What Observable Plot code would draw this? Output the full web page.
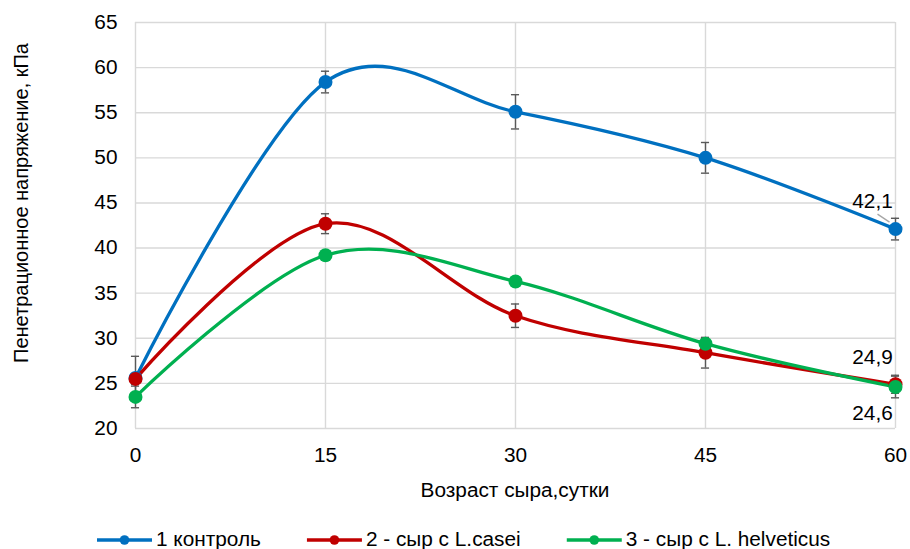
<!DOCTYPE html>
<html>
<head>
<meta charset="utf-8">
<script src="https://cdn.jsdelivr.net/npm/d3@7"></script>
<script src="https://cdn.jsdelivr.net/npm/@observablehq/plot@0.6"></script>
<style>
  body { margin: 0; background: #fff; font-family: "Liberation Sans", Arial, sans-serif; }
  #chart { width: 910px; }
  #chart svg { display: block; }
</style>
</head>
<body>
<div id="chart"></div>
<script>
// Cheese age, days
const days = [0, 15, 30, 45, 60];
const seriesNames = ["1 контроль", "2 - сыр с L.casei", "3 - сыр с L. helveticus"];
const seriesColors = ["#0070C0", "#C00000", "#00B050"];
// Penetration stress, kPa (mean and error)
const control = [25.6, 58.4, 55.1, 50.0, 42.1];
const casei = [25.5, 42.7, 32.5, 28.4, 24.9];
const helveticus = [23.5, 39.2, 36.3, 29.4, 24.6];
const controlErr = [2.4, 1.2, 1.9, 1.7, 1.2];
const caseiErr = [0.6, 1.1, 1.3, 1.7, 1.0];
const helveticusErr = [1.2, 0.4, 0.4, 0.6, 1.2];
const yTicks = [20, 25, 30, 35, 40, 45, 50, 55, 60, 65];
const xTicks = [0, 15, 30, 45, 60];
const xTitle = "Возраст сыра,сутки";
const yTitle = "Пенетрационное напряжение, кПа";

const seriesValues = [control, casei, helveticus];
const seriesErrors = [controlErr, caseiErr, helveticusErr];
const rows = seriesNames.flatMap((name, s) =>
  days.map((day, i) => ({series: name, day, value: seriesValues[s][i], err: seriesErrors[s][i]}))
);
// value labels shown at the last day, with their vertical offsets
const endLabels = [
  {series: seriesNames[0], day: 60, value: control[4], dy: -28},
  {series: seriesNames[1], day: 60, value: casei[4], dy: -27},
  {series: seriesNames[2], day: 60, value: helveticus[4], dy: 27}
];
const fmt = v => v.toFixed(1).replace(".", ",");

const fontSize = 20;
const stretch = 1.04;
const grid = "#d9d9d9";
const errColor = "#595959";

// short leader line next to the control label
const leader = {
  draw(context) {
    context.moveTo(-18, -15);
    context.lineTo(-6, -7);
  }
};

const plot = Plot.plot({
  width: 910,
  height: 520,
  marginLeft: 135,
  marginRight: 15,
  marginTop: 22,
  marginBottom: 92,
  style: {fontFamily: "Liberation Sans, Arial, sans-serif", fontSize: `${fontSize}px`, color: "#000", background: "#fff"},
  x: {domain: [0, 60]},
  y: {domain: [20, 65]},
  color: {domain: seriesNames, range: seriesColors},
  marks: [
    Plot.gridY(yTicks, {stroke: grid, strokeOpacity: 1, strokeWidth: 1.4}),
    Plot.gridX(xTicks, {stroke: grid, strokeOpacity: 1, strokeWidth: 1.4}),
    Plot.axisY(yTicks, {tickSize: 0, tickPadding: 18, label: null, fontSize}),
    Plot.axisX(xTicks, {tickSize: 0, tickPadding: 19, label: null, fontSize}),
    Plot.line(rows, {x: "day", y: "value", z: "series", stroke: "series", strokeWidth: 3.3, curve: "cardinal"}),
    Plot.ruleX(rows, {x: "day", y1: d => d.value - d.err, y2: d => d.value + d.err, stroke: errColor, strokeWidth: 1.4}),
    Plot.ruleY(rows, {y: d => d.value + d.err, x1: d => d.day - 0.32, x2: d => d.day + 0.32, stroke: errColor, strokeWidth: 1.4}),
    Plot.ruleY(rows, {y: d => d.value - d.err, x1: d => d.day - 0.32, x2: d => d.day + 0.32, stroke: errColor, strokeWidth: 1.4}),
    Plot.dot(rows, {x: "day", y: "value", fill: "series", r: 7}),
    Plot.dot(endLabels.slice(0, 1), {x: "day", y: "value", symbol: leader, stroke: "#a6a6a6", strokeWidth: 1.4, r: 1}),
    Plot.text(endLabels, {x: "day", y: "value", text: d => fmt(d.value), dx: -23, fontSize, fill: "#000"})
  ]
});

document.getElementById("chart").appendChild(plot);
const svg = d3.select(plot);

// per-label vertical offsets for the value labels
svg.selectAll("g[aria-label='text'] text").each(function(d, i) {
  const t = this.getAttribute("transform") || "";
  this.setAttribute("transform", t + ` translate(0,${endLabels[i].dy})`);
});

// axis titles
svg.append("text")
  .attr("x", 515).attr("y", 497)
  .attr("text-anchor", "middle")
  .attr("font-size", fontSize)
  .attr("fill", "#000")
  .text(xTitle);
svg.append("text")
  .attr("class", "ytitle")
  .attr("transform", "translate(28,203) rotate(-90)")
  .attr("text-anchor", "middle")
  .attr("font-size", fontSize)
  .attr("fill", "#000")
  .text(yTitle);

// widen horizontal text slightly about its own anchor point
function widen(sel) {
  sel.each(function() {
    const b = this.getBBox();
    const anchor = getComputedStyle(this).textAnchor;
    const ax = anchor === "middle" ? b.x + b.width / 2 : anchor === "end" ? b.x + b.width : b.x;
    const t = this.getAttribute("transform") || "";
    this.setAttribute("transform", `${t} translate(${ax},0) scale(${stretch},1) translate(${-ax},0)`);
  });
}
widen(svg.selectAll("text:not(.ytitle)"));

// legend below the chart
const legend = d3.select("#chart").append("svg")
  .attr("width", 910).attr("height", 29)
  .style("font-family", "Liberation Sans, Arial, sans-serif");
let lx = 97;
seriesNames.forEach((name, i) => {
  const g = legend.append("g").attr("transform", `translate(${lx},20)`);
  g.append("line").attr("x1", 0).attr("x2", 55).attr("y1", 0).attr("y2", 0)
    .attr("stroke", seriesColors[i]).attr("stroke-width", 3.3);
  g.append("circle").attr("cx", 27.5).attr("cy", 0).attr("r", 4.8).attr("fill", seriesColors[i]);
  const t = g.append("text").attr("x", 59).attr("y", 6).attr("font-size", fontSize).attr("fill", "#000").text(name);
  const w = t.node().getComputedTextLength() * stretch;
  widen(t);
  lx += 59 + w + 46;
});
</script>
</body>
</html>
